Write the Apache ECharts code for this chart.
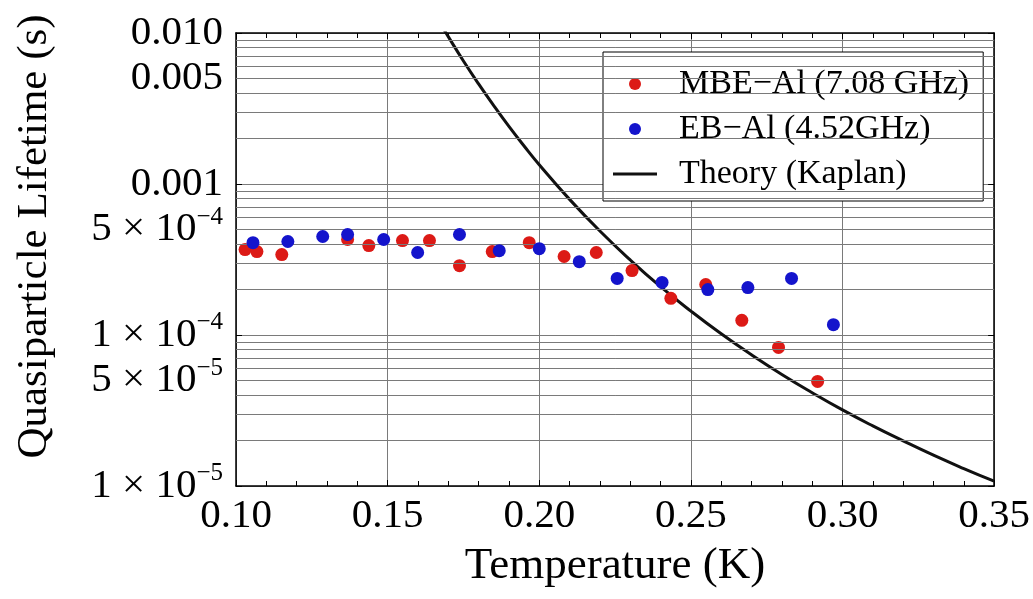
<!DOCTYPE html>
<html><head><meta charset="utf-8">
<script src="https://cdn.jsdelivr.net/npm/echarts@6/dist/echarts.min.js"></script>
<style>html,body{margin:0;padding:0;background:#fff}#c{width:1033px;height:599px}</style>
</head><body><div id="c"></div>
<script>
// ---- data ----
const mbeT   = [0.1030,0.1069,0.1151,0.1368,0.1438,0.1549,0.1638,0.1737,0.1845,0.1967,0.2082,0.2188,0.2306,0.2434,0.2549,0.2668,0.2789,0.2918];
const mbeTau = [3.68e-4,3.57e-4,3.41e-4,4.29e-4,3.91e-4,4.22e-4,4.22e-4,2.88e-4,3.57e-4,4.09e-4,3.31e-4,3.52e-4,2.67e-4,1.75e-4,2.16e-4,1.25e-4,8.28e-5,4.93e-5];
const ebT    = [0.1056,0.1171,0.1286,0.1368,0.1487,0.1599,0.1737,0.1868,0.2000,0.2132,0.2257,0.2405,0.2556,0.2688,0.2832,0.2970];
const ebTau  = [4.09e-4,4.16e-4,4.49e-4,4.63e-4,4.29e-4,3.52e-4,4.63e-4,3.62e-4,3.73e-4,3.06e-4,2.37e-4,2.23e-4,2.00e-4,2.06e-4,2.37e-4,1.17e-4];
const theoryT   = [0.168,0.170,0.175,0.180,0.185,0.190,0.195,0.200,0.210,0.220,0.230,0.240,0.250,0.260,0.270,0.280,0.290,0.300,0.310,0.320,0.330,0.340,0.350];
const theoryTau = [1.105e-2,9.46e-3,6.53e-3,4.60e-3,3.30e-3,2.406e-3,1.785e-3,1.342e-3,7.91e-4,4.88e-4,3.14e-4,2.09e-4,1.44e-4,1.018e-4,7.39e-5,5.48e-5,4.15e-5,3.19e-5,2.50e-5,1.99e-5,1.60e-5,1.305e-5,1.076e-5];
const xTicks = [0.10,0.15,0.20,0.25,0.30,0.35];
const yDecades = [1e-5,1e-4,1e-3,1e-2];
const yLabelledMinor = [5e-5,5e-4,5e-3];
const names = ['MBE\u2212Al (7.08 GHz)','EB\u2212Al (4.52GHz)','Theory (Kaplan)'];

const FONT = 'Liberation Serif';
const GRID = '#7a7a7a';
const rich = {
  b: {fontFamily: FONT, fontSize: 41, lineHeight: 50, color: '#000'},
  s: {fontFamily: FONT, fontSize: 25, lineHeight: 25, verticalAlign: 'top', color: '#000'}
};
function labelFor(v){
  const e = Math.floor(Math.log10(v) + 1e-9);
  const m = Math.round(v / Math.pow(10, e));
  if (e >= -3) return '{b|' + v.toFixed(3) + '}';
  return '{b|' + m + ' \u00d7 10}{s|\u2212' + (-e) + '}';
}
// minor grid lines 2..9 x 10^n
const minorLines = [];
for (let n = -5; n <= -3; n++) {
  for (let k = 2; k <= 9; k++) {
    const v = k * Math.pow(10, n);
    const lab = yLabelledMinor.some(u => Math.abs(u - v) / u < 1e-6);
    minorLines.push({
      yAxis: v,
      label: lab ? {show: true, position: 'start', distance: 13, formatter: labelFor(v), rich: rich} : {show: false}
    });
  }
}

const chart = echarts.init(document.getElementById('c'), null, {renderer: 'canvas'});
chart.setOption({
  animation: false,
  backgroundColor: '#fff',
  grid: {left: 236, right: 37, top: 33, bottom: 113},
  legend: {
    orient: 'vertical', left: 603, top: 52,
    padding: [15, 14, 10, 10], itemGap: 11,
    itemWidth: 44, itemHeight: 12,
    backgroundColor: '#fff', borderColor: '#000', borderWidth: 1,
    textStyle: {fontFamily: FONT, fontSize: 34, lineHeight: 34, color: '#000', padding: [0,0,0,17]},
    data: [
      {name: names[0], icon: 'circle'},
      {name: names[1], icon: 'circle'},
      {name: names[2], icon: 'path://M0,0 L44,0 L44,3 L0,3 Z'}
    ]
  },
  xAxis: [{
    type: 'value', min: xTicks[0], max: xTicks[xTicks.length-1], interval: 0.05,
    name: 'Temperature (K)', nameLocation: 'middle', nameGap: 58,
    nameTextStyle: {fontFamily: FONT, fontSize: 45, color: '#000'},
    axisLine: {show: true, onZero: false, lineStyle: {color: '#000', width: 1.5}},
    axisTick: {show: true, inside: true, length: 6, lineStyle: {color: '#000'}},
    minorTick: {show: true, splitNumber: 5, length: 5, lineStyle: {color: '#000'}},
    axisLabel: {fontFamily: FONT, fontSize: 41, color: '#000', margin: 10, formatter: v => v.toFixed(2)},
    splitLine: {show: true, lineStyle: {color: GRID, width: 1}}
  }, {
    type: 'value', position: 'top', min: xTicks[0], max: xTicks[xTicks.length-1], interval: 0.05,
    axisLine: {show: true, onZero: false, lineStyle: {color: '#000', width: 1.5}},
    axisTick: {show: true, inside: true, length: 6, lineStyle: {color: '#000'}},
    minorTick: {show: true, splitNumber: 5, length: 5, lineStyle: {color: '#000'}},
    axisLabel: {show: false}, splitLine: {show: false}
  }],
  yAxis: [{
    type: 'log', logBase: 10, min: yDecades[0], max: yDecades[yDecades.length-1],
    name: 'Quasiparticle Lifetime (s)', nameLocation: 'middle', nameGap: 180, nameRotate: 90,
    nameTextStyle: {fontFamily: FONT, fontSize: 43, color: '#000', padding: [0,0,0,46]},
    axisLine: {show: true, onZero: false, lineStyle: {color: '#000', width: 1.5}},
    axisTick: {show: true, inside: true, length: 6, lineStyle: {color: '#000'}},
    axisLabel: {margin: 13, formatter: v => labelFor(v), rich: rich},
    splitLine: {show: true, lineStyle: {color: GRID, width: 1}}
  }, {
    type: 'log', logBase: 10, position: 'right', min: yDecades[0], max: yDecades[yDecades.length-1],
    axisLine: {show: true, onZero: false, lineStyle: {color: '#000', width: 1.5}},
    axisTick: {show: true, inside: true, length: 6, lineStyle: {color: '#000'}},
    axisLabel: {show: false}, splitLine: {show: false}
  }],
  series: [{
    // carrier for the minor (2..9 x 10^n) horizontal grid lines
    type: 'line', name: '_grid', z: 1, silent: true, symbol: 'none',
    lineStyle: {opacity: 0}, itemStyle: {opacity: 0},
    data: theoryT.map((t, i) => [t, theoryTau[i]]),
    markLine: {
      silent: true, symbol: ['none','none'], animation: false, precision: 10,
      lineStyle: {color: GRID, type: 'solid', width: 1},
      emphasis: {disabled: true},
      data: minorLines
    }
  }, {
    type: 'line', name: names[2], z: 3, smooth: true, symbol: 'none', showSymbol: false,
    lineStyle: {color: '#111', width: 3}, itemStyle: {color: '#111'},
    data: theoryT.map((t, i) => [t, theoryTau[i]])
  }, {
    type: 'scatter', name: names[0], z: 4, symbolSize: 13,
    itemStyle: {color: '#dc1a16', opacity: 1},
    data: mbeT.map((t, i) => [t, mbeTau[i]])
  }, {
    type: 'scatter', name: names[1], z: 5, symbolSize: 13,
    itemStyle: {color: '#1414cc', opacity: 1},
    data: ebT.map((t, i) => [t, ebTau[i]])
  }]
});
</script>
</body></html>
